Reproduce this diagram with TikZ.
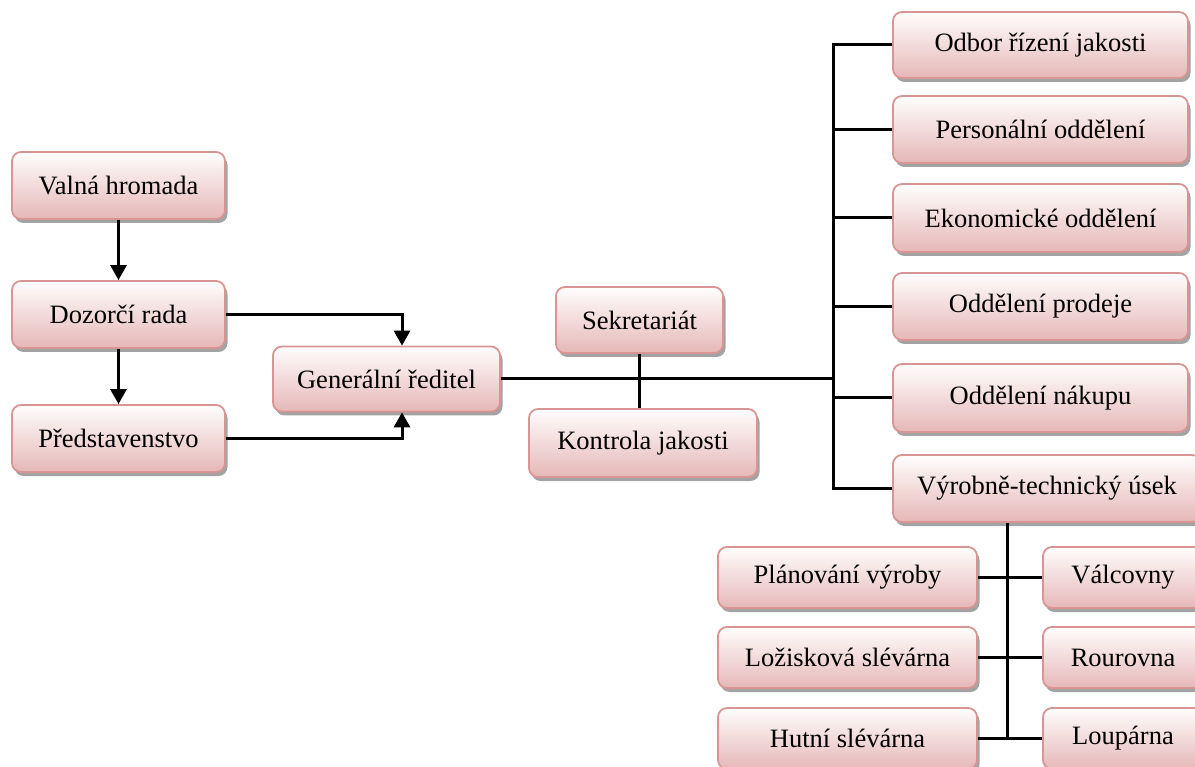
\documentclass[tikz,border=0pt]{standalone}
\usepackage{fontspec}
\setmainfont{Liberation Serif}
\usetikzlibrary{shadows,arrows.meta}
\definecolor{boxborder}{HTML}{D99594}
\definecolor{boxbottom}{HTML}{E5B8B7}
\definecolor{boxtop}{HTML}{FFFDFD}
\tikzset{
  orgbox/.style={draw=boxborder, line width=1.8pt, rounded corners=9pt,
    top color=boxtop, bottom color=boxbottom, inner sep=0pt,
    font=\fontsize{26.5}{30}\selectfont, text=black,
    drop shadow={shadow xshift=2.5pt, shadow yshift=-4pt, fill=black!45, opacity=0.8}},
  conn/.style={line width=3pt, black},
  arr/.style={conn, -{Triangle[width=16pt,length=15pt]}},
}
\begin{document}
\begin{tikzpicture}[x=1pt, y=-1pt]
\useasboundingbox (0,0) rectangle (1195,767);
\clip (0,0) rectangle (1195,767);
% left column
\node[orgbox, minimum width=213pt, minimum height=67pt] (valna) at (118.5,185.5) {Valná hromada};
\node[orgbox, minimum width=213pt, minimum height=67pt] (dozorci) at (118.5,314.5) {Dozorčí rada};
\node[orgbox, minimum width=213pt, minimum height=67pt] (predst) at (118.5,438.5) {Představenstvo};
\node[orgbox, minimum width=227pt, minimum height=65pt] (gen) at (386.5,379) {Generální ředitel};
\node[orgbox, minimum width=167pt, minimum height=66pt] (sekr) at (639.5,320) {Sekretariát};
\node[orgbox, minimum width=228pt, minimum height=68pt] (kontrola) at (643,443) {Kontrola jakosti};
% right column
\node[orgbox, minimum width=295pt, minimum height=66pt] (odbor) at (1040.5,45) {Odbor řízení jakosti};
\node[orgbox, minimum width=295pt, minimum height=67pt] (person) at (1040.5,129.5) {Personální oddělení};
\node[orgbox, minimum width=295pt, minimum height=68pt] (ekon) at (1040.5,218) {Ekonomické oddělení};
\node[orgbox, minimum width=295pt, minimum height=67pt] (prodej) at (1040.5,306.5) {Oddělení prodeje};
\node[orgbox, minimum width=295pt, minimum height=68pt] (nakup) at (1040.5,398) {Oddělení nákupu};
\node[orgbox, minimum width=308pt, minimum height=67pt] (vt) at (1047,488.5) {Výrobně-technický úsek};
% bottom
\node[orgbox, minimum width=259pt, minimum height=61pt] (plan) at (847.5,577.5) {Plánování výroby};
\node[orgbox, minimum width=259pt, minimum height=61pt] (loz) at (847.5,657.5) {Ložisková slévárna};
\node[orgbox, minimum width=259pt, minimum height=61pt] (hutni) at (847.5,738.5) {Hutní slévárna};
\node[orgbox, minimum width=160pt, minimum height=61pt] (valc) at (1123,577.5) {Válcovny};
\node[orgbox, minimum width=160pt, minimum height=61pt] (rour) at (1123,657.5) {Rourovna};
\node[orgbox, minimum width=160pt, minimum height=61pt] (loup) at (1123,738.5) {Loupárna};
% coordinates
\coordinate (ax) at (402,0);
\coordinate (bus) at (833,0);
\coordinate (vb) at (1007,0);
% left arrows
\draw[arr] (valna.south) -- (dozorci.north);
\draw[arr] (dozorci.south) -- (predst.north);
\draw[arr] (dozorci.east) -- (dozorci.east -| ax) -- (gen.north -| ax);
\draw[arr] (predst.east) -- (predst.east -| ax) -- (gen.south -| ax);
% centre
\draw[conn] (gen.east) -- (gen.east -| bus);
\draw[conn] (sekr.south) -- (sekr.south |- kontrola.north);
% bus
\draw[conn] (odbor.west) -- (odbor.west -| bus) -- (vt.west -| bus) -- (vt.west);
\draw[conn] (person.west) -- (person.west -| bus);
\draw[conn] (ekon.west) -- (ekon.west -| bus);
\draw[conn] (prodej.west) -- (prodej.west -| bus);
\draw[conn] (nakup.west) -- (nakup.west -| bus);
% bottom
\draw[conn] (vt.south -| vb) -- (hutni.east -| vb);
\draw[conn] (plan.east) -- (valc.west);
\draw[conn] (loz.east) -- (rour.west);
\draw[conn] (hutni.east) -- (loup.west);
\end{tikzpicture}
\end{document}
